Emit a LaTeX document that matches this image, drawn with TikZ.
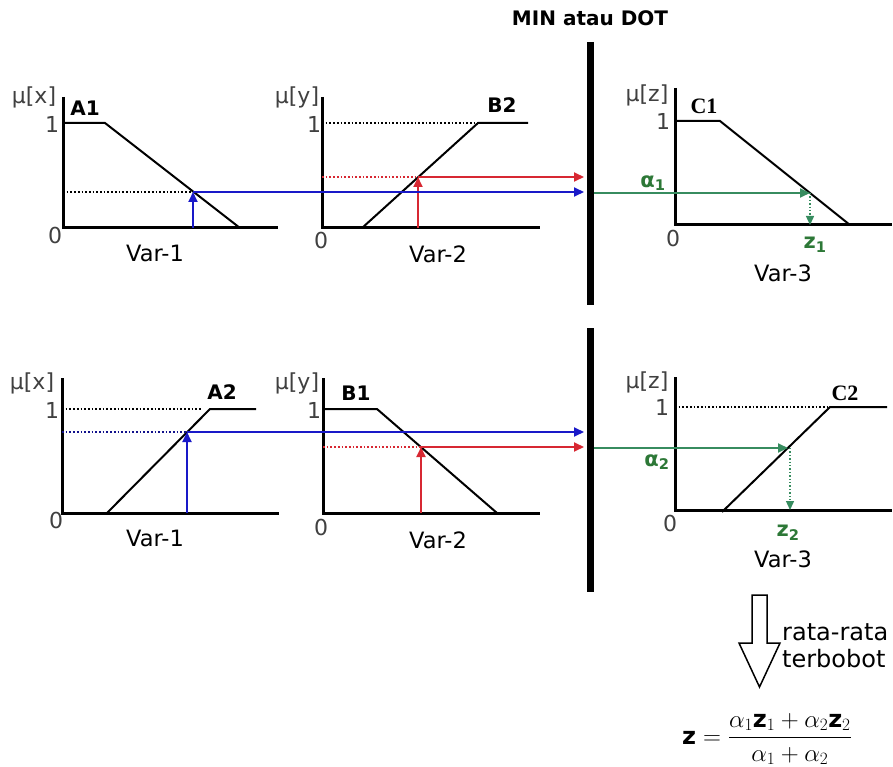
\documentclass[tikz,border=0pt]{standalone}
\usepackage{fontspec}
\setmainfont{DejaVu Sans}
\newfontfamily\setserif{Liberation Serif}
\usepackage{amsmath}
\usepackage{xcolor}
\definecolor{inblue}{RGB}{25,25,200}
\definecolor{inred}{RGB}{215,40,50}
\definecolor{outgreen}{RGB}{55,140,95}
\definecolor{labelgreen}{RGB}{45,120,55}
\usepackage{tikz}
\usetikzlibrary{arrows.meta}

\begin{document}
\begin{tikzpicture}[
  x=1pt, y=-1pt,
  axis/.style={line width=3pt, line join=miter},
  mf/.style={line width=2pt},
  lvl/.style={line width=1.7pt, dotted},
  txt/.style={font=\fontsize{22.5}{29}\selectfont, inner sep=1pt},
  tick/.style={font=\fontsize{22}{26}\selectfont, text=black!75, inner sep=1pt},
  setname/.style={font=\fontsize{20}{24}\selectfont\bfseries, inner sep=1pt},
  cname/.style={font=\fontsize{22}{26}\selectfont\setserif\bfseries, inner sep=1pt},
  greenlbl/.style={font=\fontsize{21}{25}\selectfont\bfseries, text=labelgreen, inner sep=1pt},
  flow/.style={-{Triangle[length=10pt, width=9pt]}, line width=1.8pt},
  drop/.style={-{Triangle[length=9pt, width=8pt]}, line width=1.4pt, dotted},
  minbar/.style={line width=7pt}
]
  \useasboundingbox (0,0) rectangle (893,767);

  % Rule 1: A1 (Var-1)
  \draw[axis] (63,97) -- (63,228) -- (278,228);
  \draw[mf] (63,123) -- (105,123) -- (240,228);
  \node[tick] (mux1) at (34,97) {μ[x]};
  \node[setname] (setA1) at (85,108) {A1};
  \node[tick] (oneA1) at (52,124) {1};
  \node[tick] (zeroA1) at (55,235) {0};
  \node[txt] (varA1) at (155,253) {Var-1};
  \coordinate (inA1) at (193,228);
  \coordinate (cutA1) at (193,192);
  \coordinate (levA1) at (63,192);
  \draw[lvl] (levA1) -- (cutA1);
  \draw[flow, inblue] (inA1) -- (cutA1);

  % Rule 1: B2 (Var-2)
  \draw[axis] (322,97) -- (322,228) -- (540,228);
  \draw[lvl] (322,123) -- (478,123);
  \draw[mf] (362,228) -- (478,123) -- (528,123);
  \node[tick] (muy1) at (297,97) {μ[y]};
  \node[setname] (setB2) at (502,105) {B2};
  \node[tick] (oneB2) at (314,124) {1};
  \node[tick] (zeroB2) at (321,240) {0};
  \node[txt] (varB2) at (438,254) {Var-2};
  \coordinate (inB2) at (418,228);
  \coordinate (cutB2) at (418,177);
  \coordinate (levB2) at (322,177);
  \draw[lvl, inred] (levB2) -- (cutB2);
  \draw[flow, inred] (inB2) -- (cutB2);

  % MIN / DOT operator
  \node[setname] (minop) at (590,18) {MIN atau DOT};
  \coordinate (barTop1) at (590,42);
  \coordinate (barBot1) at (590,305);
  \coordinate (barTop2) at (590,328);
  \coordinate (barBot2) at (590,592);
  \draw[minbar] (barTop1) -- (barBot1);
  \draw[minbar] (barTop2) -- (barBot2);
  \coordinate (hitA1) at (584,192);
  \coordinate (hitB2) at (584,177);
  \draw[flow, inblue] (cutA1) -- (hitA1);
  \draw[flow, inred] (cutB2) -- (hitB2);

  % Rule 1: C1 (Var-3)
  \draw[axis] (675,88) -- (675,225) -- (892,225);
  \draw[mf] (675,121) -- (720,121) -- (850,225);
  \node[tick] (muz1) at (647,95) {μ[z]};
  \node[cname] (setC1) at (704,106) {C1};
  \node[tick] (oneC1) at (663,121) {1};
  \node[tick] (zeroC1) at (673,238) {0};
  \node[txt] (varC1) at (783,273) {Var-3};
  \node[greenlbl] (alpha1) at (653,183) {α\textsubscript{1}};
  \node[greenlbl] (zout1) at (815,245) {z\textsubscript{1}};
  \coordinate (outC1) at (594,193);
  \coordinate (cutC1) at (810,193);
  \coordinate (dropC1) at (810,225);
  \draw[flow, outgreen] (outC1) -- (cutC1);
  \draw[drop, outgreen] (cutC1) -- (dropC1);

  % Rule 2: A2 (Var-1)
  \draw[axis] (62,378) -- (62,513) -- (279,513);
  \draw[lvl] (62,409) -- (201,409);
  \draw[mf] (107,513) -- (210,409) -- (256,409);
  \node[tick] (mux2) at (32,383) {μ[x]};
  \node[setname] (setA2) at (222,392) {A2};
  \node[tick] (oneA2) at (52,410) {1};
  \node[tick] (zeroA2) at (56,520) {0};
  \node[txt] (varA2) at (155,538) {Var-1};
  \coordinate (inA2) at (187,513);
  \coordinate (cutA2) at (187,432);
  \coordinate (levA2) at (62,432);
  \draw[lvl, inblue!70!black] (levA2) -- (cutA2);
  \draw[flow, inblue] (inA2) -- (cutA2);

  % Rule 2: B1 (Var-2)
  \draw[axis] (323,378) -- (323,513) -- (540,513);
  \draw[mf] (323,409) -- (377,409) -- (497,513);
  \node[tick] (muy2) at (297,383) {μ[y]};
  \node[setname] (setB1) at (356,393) {B1};
  \node[tick] (oneB1) at (314,410) {1};
  \node[tick] (zeroB1) at (321,527) {0};
  \node[txt] (varB1) at (438,540) {Var-2};
  \coordinate (inB1) at (421,513);
  \coordinate (cutB1) at (421,447);
  \coordinate (levB1) at (323,447);
  \draw[lvl, inred] (levB1) -- (cutB1);
  \draw[flow, inred] (inB1) -- (cutB1);
  \coordinate (hitA2) at (584,432);
  \coordinate (hitB1) at (584,447);
  \draw[flow, inblue] (cutA2) -- (hitA2);
  \draw[flow, inred] (cutB1) -- (hitB1);

  % Rule 2: C2 (Var-3)
  \draw[axis] (675,377) -- (675,510) -- (892,510);
  \draw[lvl] (675,407) -- (830,407);
  \draw[mf] (722,512) -- (830,407) -- (887,407);
  \node[tick] (muz2) at (647,382) {μ[z]};
  \node[cname] (setC2) at (845,393) {C2};
  \node[tick] (oneC2) at (662,407) {1};
  \node[tick] (zeroC2) at (670,523) {0};
  \node[txt] (varC2) at (783,559) {Var-3};
  \node[greenlbl] (alpha2) at (657,462) {α\textsubscript{2}};
  \node[greenlbl] (zout2) at (788,533) {z\textsubscript{2}};
  \coordinate (outC2) at (594,448);
  \coordinate (cutC2) at (788,448);
  \coordinate (dropC2) at (790,510);
  \draw[flow, outgreen] (outC2) -- (cutC2);
  \draw[drop, outgreen] (790,448) -- (dropC2);

  % Defuzzification
  \draw[line width=1.5pt, fill=white] (752,595) -- (767,595) -- (767,643) -- (780,643)
    -- (759.5,687) -- (739,643) -- (752,643) -- cycle;
  \node[txt, anchor=west, align=left, font=\fontsize{24}{27}\selectfont] (wavg) at (781,646)
    {rata-rata\\terbobot};
  \node[txt, font=\fontsize{24}{28}\selectfont] (zform) at (767,739)
    {$\textbf{z} = \dfrac{\alpha_1\textbf{z}_1 + \alpha_2\textbf{z}_2}{\alpha_1 + \alpha_2}$};
\end{tikzpicture}
\end{document}
